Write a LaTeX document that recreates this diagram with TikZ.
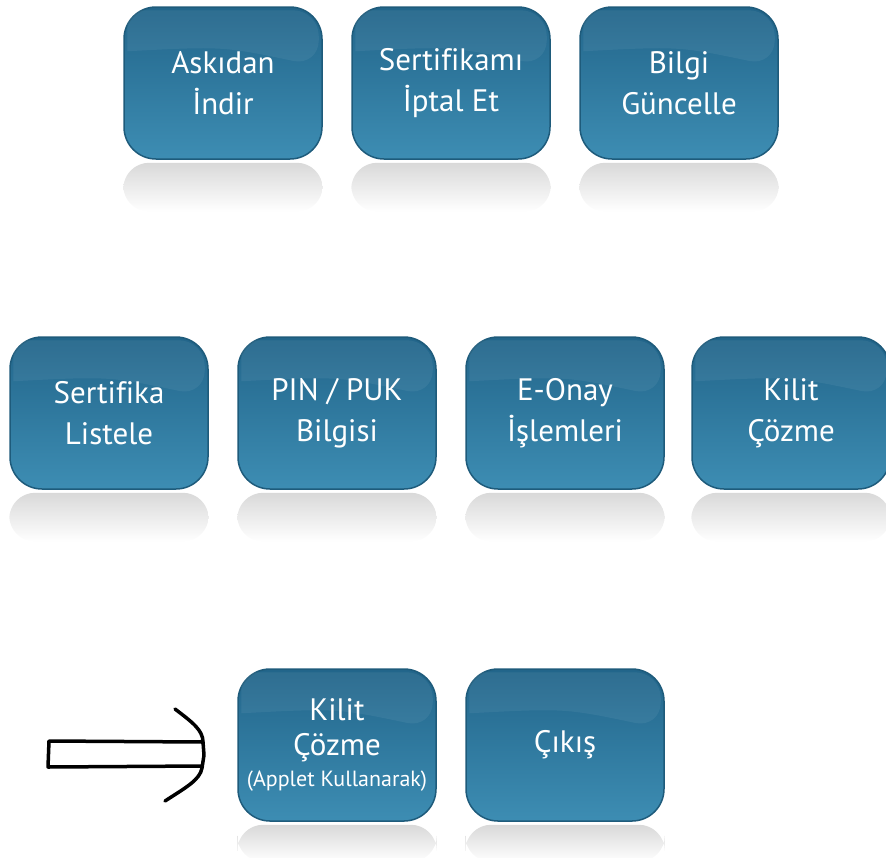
\documentclass[tikz,border=0pt]{standalone}
\usepackage{fontspec}
\setmainfont[Ligatures=NoCommon]{PT Sans}
\usetikzlibrary{calc}
\definecolor{btntop}{HTML}{22658A}
\definecolor{btnbot}{HTML}{3D8DB3}
\definecolor{btnedge}{HTML}{1E5B7B}
\tikzset{
  btn/.style={rounded corners=32pt, minimum width=198pt, minimum height=152pt,
    inner sep=0pt, top color=btntop, bottom color=btnbot, draw=btnedge, line width=1.5pt,
    text=white, align=center, font=\fontsize{31}{41}\selectfont},
  refl/.style={rounded corners=26pt, top color=black!15, bottom color=white},
  sheen/.style={fill=white, opacity=0.06},
  glow/.style={fill=black, opacity=0.04, rounded corners=34pt},
  pen/.style={line width=3.5pt, black, line join=round, line cap=round}
}
\newcommand{\reflof}[2]{\shade[refl] ([yshift=-3pt]#1.south west) rectangle ([yshift=-#2pt]#1.south east);}
\newcommand{\glowof}[1]{\fill[glow] ([shift={(-4pt,4pt)}]#1.north west) rectangle ([shift={(4pt,-2pt)}]#1.south east);}
\begin{document}
\begin{tikzpicture}[x=1pt,y=-1pt]
\useasboundingbox (0,0) rectangle (886,857);
% row 1
\node[btn] (askida) at (223,83) {Askıdan\\İndir};
\node[btn] (iptal) at (451,83) {Sertifikamı\\İptal Et};
\node[btn] (bilgi) at (679,83) {Bilgi\\Güncelle};
% row 2
\node[btn] (liste) at (109,413) {Sertifika\\Listele};
\node[btn] (pin) at (337,413) {PIN / PUK\\Bilgisi};
\node[btn] (eonay) at (565,413) {E-Onay\\İşlemleri};
\node[btn] (kilit) at (791,413) {Kilit\\Çözme};
% row 3
\node[btn, font=\fontsize{31}{35}\selectfont] (applet) at (337,745) {Kilit\\Çözme\\[-4pt]{\fontsize{22}{24}\selectfont(Applet Kullanarak)}};
\node[btn] (cikis) at (565,745) {Çıkış};
% reflections
\foreach \n in {askida,iptal,bilgi,liste,pin,eonay,kilit}{\reflof{\n}{52}}
\foreach \n in {applet,cikis}{\reflof{\n}{40}}
% sheen
\foreach \n in {askida,iptal,bilgi,liste,pin,eonay,kilit,applet,cikis}{
  \fill[sheen] ([xshift=4pt,yshift=-4pt]\n.north west) [rounded corners=26pt] -- ([xshift=-4pt,yshift=-4pt]\n.north east) -- ([xshift=-4pt,yshift=-60pt]\n.north east) [sharp corners] .. controls ($(\n.north)+(0,-40pt)$) .. ([xshift=4pt,yshift=-45pt]\n.north west) -- cycle;
}
% hand-drawn arrow
\coordinate (tail1) at (49,741);
\coordinate (tail2) at (48,767);
\coordinate (neck1) at (203,742);
\coordinate (neck2) at (202,766);
\coordinate (headtop) at (175,709);
\coordinate (tip) at (204,755);
\coordinate (headbot) at (165,801);
\draw[pen] (neck1) -- (tail1) -- (tail2) -- (neck2);
\draw[pen] (headtop) .. controls (192,722) and (203,730) .. (203,742) -- (tip) -- (202,768) .. controls (200,780) and (185,788) .. (headbot);
\end{tikzpicture}
\end{document}
